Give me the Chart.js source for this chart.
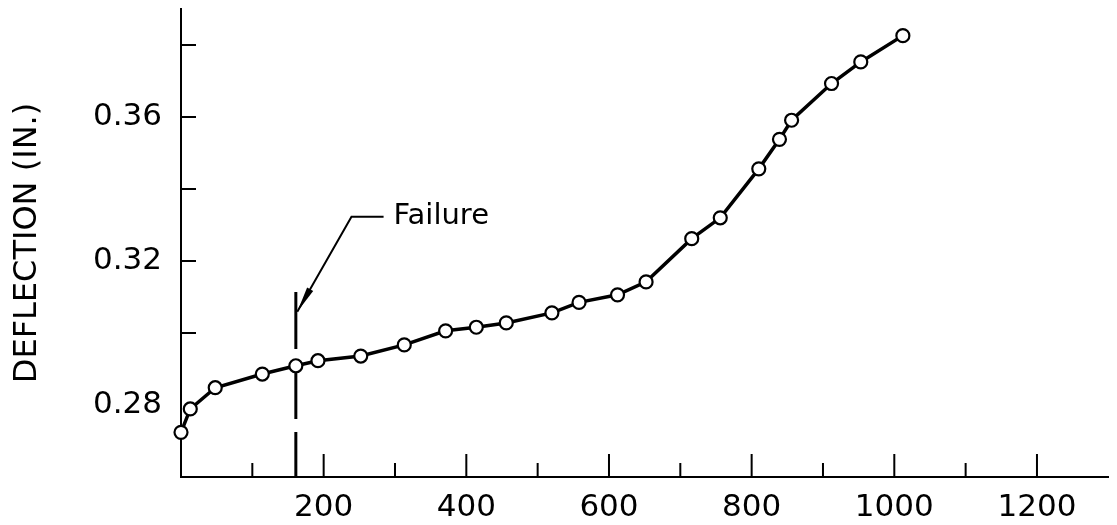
<!DOCTYPE html>
<html>
<head>
<meta charset="utf-8">
<title>Deflection</title>
<script src="https://cdn.jsdelivr.net/npm/chart.js@4.4.1/dist/chart.umd.min.js"></script>
<style>
  html, body { margin: 0; padding: 0; background: #fff; }
</style>
</head>
<body>
<canvas id="grafica" width="1117" height="525"></canvas>
<script>
'use strict'

// values
var load = [0, 13, 48, 114, 161, 192, 252, 313, 371, 414, 456, 520, 558, 612, 652, 716, 756, 810, 839, 856, 912, 953, 1012];
var deflection = [0.2724, 0.2789, 0.2848, 0.2886, 0.2909, 0.2923, 0.2936, 0.2967, 0.3006, 0.3016, 0.3028, 0.3056, 0.3085, 0.3106, 0.3142, 0.3262, 0.3320, 0.3456, 0.3538, 0.3591, 0.3693, 0.3753, 0.3826];

var xLabels = [200, 400, 600, 800, 1000, 1200];
var xMinorTicks = [100, 300, 500, 700, 900, 1100];
var yLabels = [0.28, 0.32, 0.36];
var yTicks = [0.30, 0.32, 0.34, 0.36, 0.38];

// failure marker (data units)
var failureLoad = 161;
var failureTop = 0.3114;
var arrowTip = [163, 0.3059];
var leaderCorner = [239, 0.3323];
var leaderEnd = 284;
var failureText = 'Failure';

var fuente = "'DejaVu Sans', sans-serif";

var inwardTicks = {
  id: 'inwardTicks',
  beforeDatasetsDraw: function (chart) {
    var ctx = chart.ctx;
    var sx = chart.scales.x, sy = chart.scales.y;
    var a = chart.chartArea;
    ctx.save();
    ctx.strokeStyle = '#000';
    ctx.lineWidth = 2;
    ctx.beginPath();
    xLabels.forEach(function (v) {
      var px = sx.getPixelForValue(v);
      ctx.moveTo(px, a.bottom); ctx.lineTo(px, a.bottom - 23);
    });
    xMinorTicks.forEach(function (v) {
      var px = sx.getPixelForValue(v);
      ctx.moveTo(px, a.bottom); ctx.lineTo(px, a.bottom - 14);
    });
    yTicks.forEach(function (v) {
      var py = sy.getPixelForValue(v);
      ctx.moveTo(a.left, py); ctx.lineTo(a.left + 15, py);
    });
    ctx.stroke();

    // dashed failure line
    var fx = sx.getPixelForValue(failureLoad);
    ctx.lineWidth = 3;
    ctx.setLineDash([57, 13]);
    ctx.beginPath();
    ctx.moveTo(fx, sy.getPixelForValue(failureTop));
    ctx.lineTo(fx, a.bottom);
    ctx.stroke();
    ctx.setLineDash([]);

    // leader line with arrow
    var tx = sx.getPixelForValue(arrowTip[0]), ty = sy.getPixelForValue(arrowTip[1]);
    var cx = sx.getPixelForValue(leaderCorner[0]), cy = sy.getPixelForValue(leaderCorner[1]);
    var ex = sx.getPixelForValue(leaderEnd);
    ctx.lineWidth = 2;
    ctx.beginPath();
    ctx.moveTo(tx, ty); ctx.lineTo(cx, cy); ctx.lineTo(ex, cy);
    ctx.stroke();
    var dx = cx - tx, dy = cy - ty, len = Math.sqrt(dx * dx + dy * dy);
    dx /= len; dy /= len;
    var bx = tx + dx * 26, by = ty + dy * 26;
    ctx.fillStyle = '#000';
    ctx.beginPath();
    ctx.moveTo(tx, ty);
    ctx.lineTo(bx - dy * 3.5, by + dx * 3.5);
    ctx.lineTo(bx + dy * 3.5, by - dx * 3.5);
    ctx.closePath();
    ctx.fill();

    ctx.font = '29px ' + fuente;
    ctx.textBaseline = 'middle';
    ctx.textAlign = 'left';
    ctx.fillText(failureText, ex + 10, cy);
    ctx.restore();
  }
};

var chart1 = new Chart(document.getElementById('grafica'), {
  type: 'scatter',
  data: {
    datasets: [{
      data: load.map(function (v, i) { return { x: v, y: deflection[i] }; }),
      showLine: true,
      borderColor: '#000',
      borderWidth: 3.5,
      pointRadius: 6.5,
      pointBorderWidth: 2.2,
      pointBackgroundColor: '#fff',
      pointBorderColor: '#000',
      clip: false
    }]
  },
  options: {
    responsive: false,
    animation: false,
    layout: { padding: { top: 9, right: 2, left: 0, bottom: 0 } },
    plugins: { legend: { display: false }, tooltip: { enabled: false } },
    scales: {
      x: {
        type: 'linear',
        min: 0,
        max: 1300,
        grid: { display: false, drawTicks: false },
        border: { color: '#000', width: 2 },
        afterFit: function (s) { s.height = 48; s.paddingLeft = 0; s.paddingRight = 0; },
        ticks: {
          stepSize: 100,
          autoSkip: false,
          maxRotation: 0,
          padding: 12,
          color: '#000',
          font: { family: fuente, size: 31 },
          callback: function (v) { return xLabels.indexOf(v) >= 0 ? String(v) : ''; }
        }
      },
      y: {
        min: 0.26,
        max: 0.39,
        grid: { display: false, drawTicks: false },
        border: { color: '#000', width: 2 },
        afterFit: function (s) { s.width = 181; s.paddingTop = 0; s.paddingBottom = 0; },
        ticks: {
          stepSize: 0.02,
          autoSkip: false,
          padding: 19,
          color: '#000',
          font: { family: fuente, size: 31 },
          callback: function (v) {
            var r = Math.round(v * 100) / 100;
            return yLabels.indexOf(r) >= 0 ? r.toFixed(2) : '';
          }
        },
        title: {
          display: true,
          text: 'DEFLECTION (IN.)',
          color: '#000',
          font: { family: fuente, size: 32 },
          padding: { top: 8, bottom: 0 }
        }
      }
    }
  },
  plugins: [inwardTicks]
});
</script>
</body>
</html>
